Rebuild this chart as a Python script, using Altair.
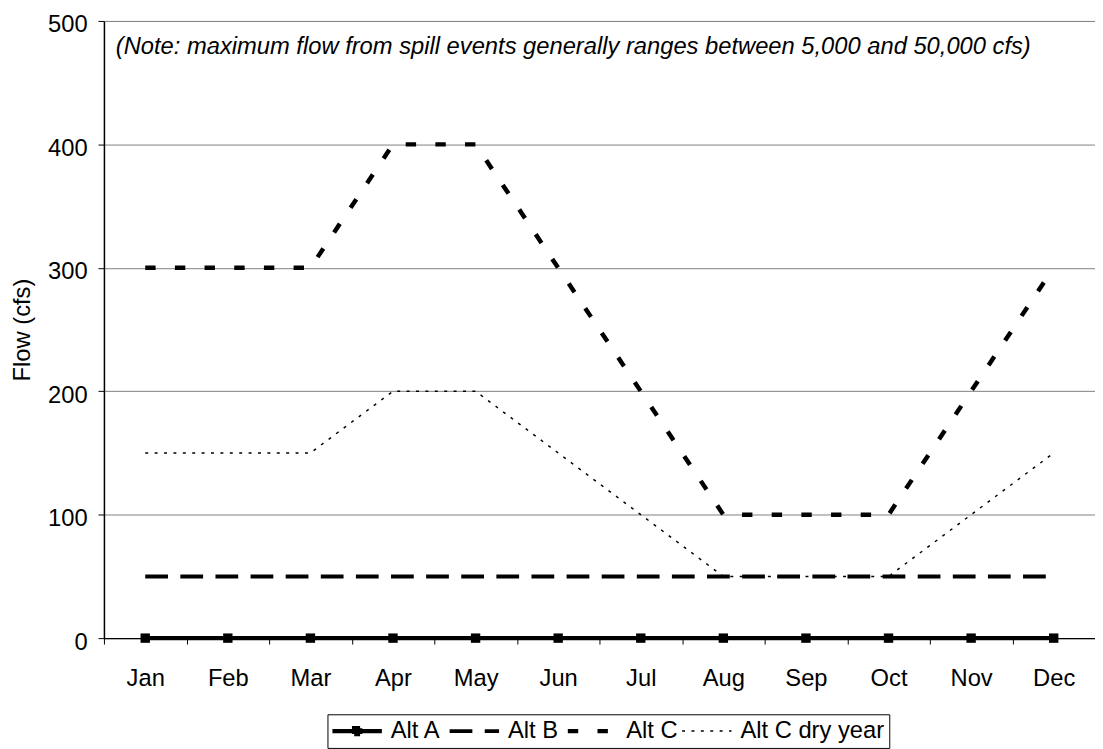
import altair as alt
import pandas as pd

# ---- data ----
months = ["Jan", "Feb", "Mar", "Apr", "May", "Jun", "Jul", "Aug", "Sep", "Oct", "Nov", "Dec"]
series_names = ["Alt A", "Alt B", "Alt C", "Alt C dry year"]
alt_a = [0, 0, 0, 0, 0, 0, 0, 0, 0, 0, 0, 0]
alt_b = [50, 50, 50, 50, 50, 50, 50, 50, 50, 50, 50, 50]
alt_c = [300, 300, 300, 400, 400, 300, 200, 100, 100, 100, 200, 300]
alt_c_dry = [150, 150, 150, 200, 200, 150, 100, 50, 50, 50, 100, 150]
y_ticks = [0, 100, 200, 300, 400, 500]
note = "(Note:  maximum flow from spill events generally ranges between 5,000 and 50,000 cfs)"
y_title = "Flow (cfs)"

FONT = "Liberation Sans"
FS = 24

rows = []
for name, vals in zip(series_names, [alt_a, alt_b, alt_c, alt_c_dry]):
    for m, v in zip(months, vals):
        rows.append({"Month": m, "Flow": v, "Series": name})
df = pd.DataFrame(rows)

x_enc = alt.X(
    "Month:O",
    sort=months,
    bandPosition=0.5,
    scale=alt.Scale(type="band", paddingInner=0, paddingOuter=0),
    axis=alt.Axis(
        title=None, tickBand="extent", grid=False, labelAngle=0,
        labelFontSize=FS, labelFont=FONT, labelColor="black", labelPadding=23,
        tickSize=6, tickColor="black", tickWidth=1,
        domainColor="black", domainWidth=1.5,
    ),
)
y_enc = alt.Y(
    "Flow:Q",
    scale=alt.Scale(domain=[0, 500], nice=False),
    axis=alt.Axis(
        values=y_ticks, title=y_title, titleFontSize=FS, titleFont=FONT,
        titleFontWeight="normal", titleColor="black", titlePadding=13,
        labelFontSize=FS, labelFont=FONT, labelColor="black", labelPadding=11,
        labelOffset=4,
        tickSize=6, tickColor="black", tickWidth=1,
        domainColor="black", domainWidth=1.5,
        grid=True, gridColor="#808080", gridWidth=1,
    ),
)

sw_expr = "datum.value === 'Alt C dry year' ? 1.5 : (datum.value === 'Alt B' ? 4 : 4.5)"
shape_expr = "datum.value === 'Alt A' ? 'M-1,0H1M-0.12,-0.12H0.12V0.12H-0.12Z' : 'stroke'"
fill_expr = "datum.value === 'Alt A' ? 'black' : 'transparent'"

legend = alt.Legend(
    title=None, orient="none", legendX=226, legendY=701, direction="horizontal",
    columns=4, strokeColor="black", padding=5, symbolSize=2500,
    symbolType={"expr": shape_expr},
    symbolStrokeWidth={"expr": sw_expr},
    symbolFillColor={"expr": fill_expr},
    symbolStrokeColor="black", symbolOffset=13,
    labelFontSize=FS, labelFont=FONT, labelColor="black",
    labelOffset=22, columnPadding=0.5,
)

stroke_w = (
    alt.when(alt.datum.Series == "Alt C dry year").then(alt.value(1.5))
    .when(alt.datum.Series == "Alt B").then(alt.value(4))
    .otherwise(alt.value(4.5))
)

lines = alt.Chart(df).mark_line(color="black", strokeCap="butt").encode(
    x=x_enc,
    y=y_enc,
    strokeDash=alt.StrokeDash(
        "Series:N",
        scale=alt.Scale(domain=series_names,
                        range=[[1, 0], [23, 12.5], [10.5, 19.5], [3, 6.5]]),
        legend=legend,
    ),
    strokeWidth=stroke_w,
)

squares = alt.Chart(df).transform_filter(alt.datum.Series == "Alt A").mark_square(
    size=90, filled=True, color="black", opacity=1
).encode(x=x_enc, y=y_enc)

chart = (
    alt.layer(lines, squares)
    .properties(
        width=1002, height=624,
        autosize=alt.AutoSizeParams(type="none"),
        padding={"left": 97, "top": 9, "right": 0, "bottom": 108},
        title=alt.TitleParams(
            text=note, anchor="start", frame="group", orient="top", offset=0,
            dx=12, dy=65, fontSize=FS, fontStyle="italic", fontWeight="normal",
            font=FONT, color="black", baseline="alphabetic",
        ),
    )
    .configure_view(stroke=None)
    .configure(background="white")
)

chart.save("out.html", embed_options={"renderer": "svg", "actions": False})
